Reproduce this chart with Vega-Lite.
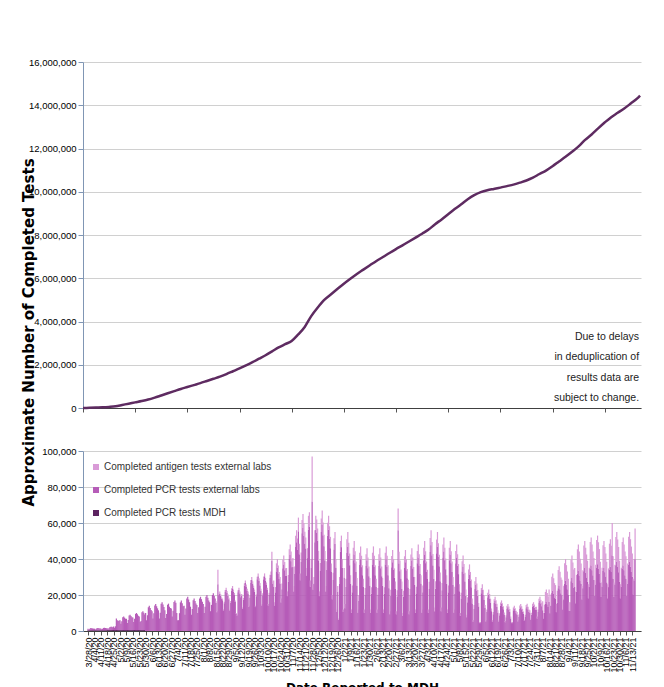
{
"$schema":"https://vega.github.io/schema/vega-lite/v6.json",
"background":"white",
"padding":{"left":21,"top":57,"right":20,"bottom":0},
"spacing":43,
"bounds":"flush",
"resolve":{"legend":{"color":"independent"}},
"config":{"view":{"stroke":null},"axis":{"labelFont":"Liberation Sans","labelColor":"#000000","labelFontSize":9.5,"domainWidth":1}},
"datasets":{
"cum":[
{"d":"2020-03-28","v":0},{"d":"2020-04-04","v":10000},{"d":"2020-04-11","v":20000},{"d":"2020-04-18","v":30000},{"d":"2020-04-25","v":50000},{"d":"2020-05-02","v":80000},{"d":"2020-05-09","v":140000},{"d":"2020-05-16","v":200000},{"d":"2020-05-23","v":260000},{"d":"2020-05-30","v":320000},{"d":"2020-06-06","v":390000},{"d":"2020-06-13","v":480000},{"d":"2020-06-20","v":580000},{"d":"2020-06-27","v":680000},{"d":"2020-07-04","v":780000},{"d":"2020-07-11","v":880000},{"d":"2020-07-18","v":970000},{"d":"2020-07-25","v":1060000},{"d":"2020-08-01","v":1150000},{"d":"2020-08-08","v":1250000},{"d":"2020-08-15","v":1350000},{"d":"2020-08-22","v":1450000},{"d":"2020-08-29","v":1570000},{"d":"2020-09-05","v":1700000},{"d":"2020-09-12","v":1830000},{"d":"2020-09-19","v":1970000},{"d":"2020-09-26","v":2120000},{"d":"2020-10-03","v":2280000},{"d":"2020-10-10","v":2440000},{"d":"2020-10-17","v":2620000},{"d":"2020-10-24","v":2800000},{"d":"2020-10-31","v":2950000},{"d":"2020-11-07","v":3100000},{"d":"2020-11-14","v":3400000},{"d":"2020-11-21","v":3750000},{"d":"2020-11-28","v":4250000},{"d":"2020-12-05","v":4650000},{"d":"2020-12-12","v":5000000},{"d":"2020-12-19","v":5250000},{"d":"2020-12-26","v":5500000},{"d":"2021-01-02","v":5750000},{"d":"2021-01-09","v":5980000},{"d":"2021-01-16","v":6200000},{"d":"2021-01-23","v":6400000},{"d":"2021-01-30","v":6600000},{"d":"2021-02-06","v":6800000},{"d":"2021-02-13","v":6980000},{"d":"2021-02-20","v":7170000},{"d":"2021-02-27","v":7350000},{"d":"2021-03-06","v":7520000},{"d":"2021-03-13","v":7700000},{"d":"2021-03-20","v":7880000},{"d":"2021-03-27","v":8060000},{"d":"2021-04-03","v":8250000},{"d":"2021-04-10","v":8500000},{"d":"2021-04-17","v":8720000},{"d":"2021-04-24","v":8960000},{"d":"2021-05-01","v":9200000},{"d":"2021-05-08","v":9420000},{"d":"2021-05-15","v":9650000},{"d":"2021-05-22","v":9840000},{"d":"2021-05-29","v":9980000},{"d":"2021-06-05","v":10070000},{"d":"2021-06-12","v":10130000},{"d":"2021-06-19","v":10190000},{"d":"2021-06-26","v":10260000},{"d":"2021-07-03","v":10330000},{"d":"2021-07-10","v":10420000},{"d":"2021-07-17","v":10520000},{"d":"2021-07-24","v":10650000},{"d":"2021-07-31","v":10820000},{"d":"2021-08-07","v":10980000},{"d":"2021-08-14","v":11180000},{"d":"2021-08-21","v":11400000},{"d":"2021-08-28","v":11620000},{"d":"2021-09-04","v":11850000},{"d":"2021-09-11","v":12100000},{"d":"2021-09-18","v":12400000},{"d":"2021-09-25","v":12650000},{"d":"2021-10-02","v":12930000},{"d":"2021-10-09","v":13200000},{"d":"2021-10-16","v":13450000},{"d":"2021-10-23","v":13650000},{"d":"2021-10-30","v":13850000},{"d":"2021-11-06","v":14080000},{"d":"2021-11-13","v":14320000},{"d":"2021-11-16","v":14450000}
],
"daily":[
{"d":"2020-03-28","m":400,"p":800},{"d":"2020-03-29","m":400,"p":500},{"d":"2020-03-30","m":400,"p":900},{"d":"2020-03-31","m":400,"p":1200},{"d":"2020-04-01","m":400,"p":1100},{"d":"2020-04-02","m":400,"p":1000},{"d":"2020-04-03","m":400,"p":900},
{"d":"2020-04-04","m":400,"p":900},{"d":"2020-04-05","m":400,"p":500},{"d":"2020-04-06","m":400,"p":800},{"d":"2020-04-07","m":400,"p":1200},{"d":"2020-04-08","m":400,"p":1300},{"d":"2020-04-09","m":400,"p":1100},{"d":"2020-04-10","m":400,"p":1000},
{"d":"2020-04-11","m":400,"p":1000},{"d":"2020-04-12","m":400,"p":600},{"d":"2020-04-13","m":400,"p":900},{"d":"2020-04-14","m":400,"p":1300},{"d":"2020-04-15","m":400,"p":1400},{"d":"2020-04-16","m":400,"p":1200},{"d":"2020-04-17","m":400,"p":1100},
{"d":"2020-04-18","m":500,"p":1000},{"d":"2020-04-19","m":500,"p":500},{"d":"2020-04-20","m":500,"p":1100},{"d":"2020-04-21","m":500,"p":1700},{"d":"2020-04-22","m":500,"p":1900},{"d":"2020-04-23","m":500,"p":1800},{"d":"2020-04-24","m":500,"p":1600},
{"d":"2020-04-25","m":500,"p":2000},{"d":"2020-04-26","m":500,"p":1300},{"d":"2020-04-27","m":500,"p":2100},{"d":"2020-04-28","m":500,"p":6500},{"d":"2020-04-29","m":500,"p":5500},{"d":"2020-04-30","m":500,"p":5000},{"d":"2020-05-01","m":500,"p":5300},
{"d":"2020-05-02","m":500,"p":5500},{"d":"2020-05-03","m":500,"p":3500},{"d":"2020-05-04","m":500,"p":4900},{"d":"2020-05-05","m":500,"p":7100},{"d":"2020-05-06","m":500,"p":7500},{"d":"2020-05-07","m":500,"p":6900},{"d":"2020-05-08","m":500,"p":6300},
{"d":"2020-05-09","m":500,"p":6300},{"d":"2020-05-10","m":500,"p":4000},{"d":"2020-05-11","m":500,"p":5600},{"d":"2020-05-12","m":500,"p":8100},{"d":"2020-05-13","m":500,"p":8500},{"d":"2020-05-14","m":500,"p":7800},{"d":"2020-05-15","m":500,"p":7200},
{"d":"2020-05-16","m":500,"p":7000},{"d":"2020-05-17","m":500,"p":4500},{"d":"2020-05-18","m":500,"p":6300},{"d":"2020-05-19","m":500,"p":9000},{"d":"2020-05-20","m":500,"p":9500},{"d":"2020-05-21","m":500,"p":8800},{"d":"2020-05-22","m":500,"p":8000},
{"d":"2020-05-23","m":500,"p":7500},{"d":"2020-05-24","m":500,"p":4500},{"d":"2020-05-25","m":500,"p":5000},{"d":"2020-05-26","m":500,"p":9900},{"d":"2020-05-27","m":500,"p":10500},{"d":"2020-05-28","m":500,"p":9600},{"d":"2020-05-29","m":500,"p":8700},
{"d":"2020-05-30","p":10000},{"d":"2020-05-31","p":6000},{"d":"2020-06-01","p":8800},{"d":"2020-06-02","p":13200},{"d":"2020-06-03","p":14000},{"d":"2020-06-04","p":12800},{"d":"2020-06-05","p":11600},
{"d":"2020-06-06","p":11000},{"d":"2020-06-07","p":7000},{"d":"2020-06-08","p":9800},{"d":"2020-06-09","p":14200},{"d":"2020-06-10","p":15000},{"d":"2020-06-11","p":13800},{"d":"2020-06-12","p":12600},
{"d":"2020-06-13","p":11500},{"d":"2020-06-14","p":7000},{"d":"2020-06-15","p":10200},{"d":"2020-06-16","p":15100},{"d":"2020-06-17","p":16000},{"d":"2020-06-18","p":14700},{"d":"2020-06-19","p":13300},
{"d":"2020-06-20","p":11500},{"d":"2020-06-21","p":7200},{"d":"2020-06-22","p":9500},{"d":"2020-06-23","p":14600},{"d":"2020-06-24","p":15200},{"d":"2020-06-25","p":13500},{"d":"2020-06-26","p":12800},
{"d":"2020-06-27","p":12500},{"d":"2020-06-28","p":8000},{"d":"2020-06-29","p":11200},{"d":"2020-06-30","p":16100},{"d":"2020-07-01","p":17000},{"d":"2020-07-02","p":15700},{"d":"2020-07-03","p":10000},
{"d":"2020-07-04","p":6000},{"d":"2020-07-05","p":6000},{"d":"2020-07-06","p":9900},{"d":"2020-07-07","p":15900},{"d":"2020-07-08","p":17000},{"d":"2020-07-09","p":15400},{"d":"2020-07-10","p":13700},
{"d":"2020-07-11","p":14000},{"d":"2020-07-12","p":9000},{"d":"2020-07-13","p":12500},{"d":"2020-07-14","p":18000},{"d":"2020-07-15","p":19000},{"d":"2020-07-16","p":17500},{"d":"2020-07-17","p":16000},
{"d":"2020-07-18","p":13500},{"d":"2020-07-19","p":9000},{"d":"2020-07-20","p":12200},{"d":"2020-07-21","p":17100},{"d":"2020-07-22","p":18000},{"d":"2020-07-23","p":16700},{"d":"2020-07-24","p":15300},
{"d":"2020-07-25","p":14500},{"d":"2020-07-26","p":10000},{"d":"2020-07-27","p":13200},{"d":"2020-07-28","p":18100},{"d":"2020-07-29","p":19000},{"d":"2020-07-30","p":17700},{"d":"2020-07-31","p":16300},
{"d":"2020-08-01","p":15000},{"d":"2020-08-02","p":10000},{"d":"2020-08-03","p":13500},{"d":"2020-08-04","p":19000},{"d":"2020-08-05","p":20000},{"d":"2020-08-06","p":18500},{"d":"2020-08-07","p":17000},
{"d":"2020-08-08","p":16000},{"d":"2020-08-09","p":11000},{"d":"2020-08-10","p":14500},{"d":"2020-08-11","p":20000},{"d":"2020-08-12","p":21000},{"d":"2020-08-13","p":19500},{"d":"2020-08-14","p":18000},
{"d":"2020-08-15","p":15700,"r":800},{"d":"2020-08-16","p":10400,"r":600},{"d":"2020-08-17","p":26000,"r":8000},{"d":"2020-08-18","p":19900,"r":1000},{"d":"2020-08-19","p":20900,"r":1100},{"d":"2020-08-20","p":19400,"r":1000},{"d":"2020-08-21","p":17800,"r":900},
{"d":"2020-08-22","p":17100,"r":900},{"d":"2020-08-23","p":11400,"r":600},{"d":"2020-08-24","p":15400,"r":800},{"d":"2020-08-25","p":21700,"r":1100},{"d":"2020-08-26","p":22800,"r":1200},{"d":"2020-08-27","p":21100,"r":1100},{"d":"2020-08-28","p":19400,"r":1000},
{"d":"2020-08-29","p":17600,"r":900},{"d":"2020-08-30","p":11400,"r":600},{"d":"2020-08-31","p":15800,"r":800},{"d":"2020-09-01","p":22500,"r":1200},{"d":"2020-09-02","p":23700,"r":1300},{"d":"2020-09-03","p":21800,"r":1200},{"d":"2020-09-04","p":20000,"r":1100},
{"d":"2020-09-05","p":16100,"r":900},{"d":"2020-09-06","p":9500,"r":500},{"d":"2020-09-07","p":8500,"r":500},{"d":"2020-09-08","p":21500,"r":1100},{"d":"2020-09-09","p":22800,"r":1200},{"d":"2020-09-10","p":20800,"r":1100},{"d":"2020-09-11","p":18800,"r":1000},
{"d":"2020-09-12","p":19500,"r":1000},{"d":"2020-09-13","p":12300,"r":700},{"d":"2020-09-14","p":17400,"r":900},{"d":"2020-09-15","p":25200,"r":1300},{"d":"2020-09-16","p":26600,"r":1400},{"d":"2020-09-17","p":24500,"r":1300},{"d":"2020-09-18","p":22300,"r":1200},
{"d":"2020-09-19","p":20900,"r":1100},{"d":"2020-09-20","p":13300,"r":700},{"d":"2020-09-21","p":18600,"r":1000},{"d":"2020-09-22","p":27000,"r":1400},{"d":"2020-09-23","p":28500,"r":1500},{"d":"2020-09-24","p":26200,"r":1400},{"d":"2020-09-25","p":23900,"r":1300},
{"d":"2020-09-26","p":21800,"r":1200},{"d":"2020-09-27","p":13300,"r":700},{"d":"2020-09-28","p":19300,"r":1000},{"d":"2020-09-29","p":28700,"r":1500},{"d":"2020-09-30","p":30400,"r":1600},{"d":"2020-10-01","p":27800,"r":1500},{"d":"2020-10-02","p":25300,"r":1300},
{"d":"2020-10-03","p":22300,"r":1200},{"d":"2020-10-04","p":14200,"r":800},{"d":"2020-10-05","p":19900,"r":1100},{"d":"2020-10-06","p":28800,"r":1500},{"d":"2020-10-07","p":30400,"r":1600},{"d":"2020-10-08","p":28000,"r":1500},{"d":"2020-10-09","p":25600,"r":1300},
{"d":"2020-10-10","p":22800,"r":1200},{"d":"2020-10-11","p":14200,"r":800},{"d":"2020-10-12","p":20200,"r":1100},{"d":"2020-10-13","p":29600,"r":1600},{"d":"2020-10-14","p":31300,"r":1700},{"d":"2020-10-15","p":39000,"r":5000},{"d":"2020-10-16","p":26200,"r":1400},
{"d":"2020-10-17","p":24600,"r":3400},{"d":"2020-10-18","p":14100,"r":1900},{"d":"2020-10-19","p":21500,"r":2900},{"d":"2020-10-20","p":33100,"r":4500},{"d":"2020-10-21","p":35200,"r":4800},{"d":"2020-10-22","p":32000,"r":4400},{"d":"2020-10-23","p":28900,"r":3900},
{"d":"2020-10-24","p":26400,"r":3600},{"d":"2020-10-25","p":15800,"r":2200},{"d":"2020-10-26","p":23200,"r":3200},{"d":"2020-10-27","p":34800,"r":4800},{"d":"2020-10-28","p":37000,"r":5000},{"d":"2020-10-29","p":33800,"r":4600},{"d":"2020-10-30","p":30600,"r":4200},
{"d":"2020-10-31","p":30800,"r":4200},{"d":"2020-11-01","p":19400,"r":2600},{"d":"2020-11-02","p":27400,"r":3700},{"d":"2020-11-03","p":40000,"r":5400},{"d":"2020-11-04","p":42200,"r":5800},{"d":"2020-11-05","p":38800,"r":5300},{"d":"2020-11-06","p":35400,"r":4800},
{"d":"2020-11-07","p":35600,"r":4900},{"d":"2020-11-08","p":22000,"r":3000},{"d":"2020-11-09","p":31600,"r":4300},{"d":"2020-11-10","p":46600,"r":6300},{"d":"2020-11-11","p":49300,"r":6700},{"d":"2020-11-12","p":45200,"r":6200},{"d":"2020-11-13","p":55400,"r":7600},
{"d":"2020-11-14","p":42700,"r":5800},{"d":"2020-11-15","p":28200,"r":3800},{"d":"2020-11-16","p":38400,"r":5200},{"d":"2020-11-17","p":54300,"r":7400},{"d":"2020-11-18","p":57200,"r":7800},{"d":"2020-11-19","p":52800,"r":7200},{"d":"2020-11-20","p":48500,"r":6600},
{"d":"2020-11-21","p":45800,"r":6200},{"d":"2020-11-22","p":30800,"r":4200},{"d":"2020-11-23","p":40500,"r":5500},{"d":"2020-11-24","p":56300,"r":7700},{"d":"2020-11-25","p":58100,"r":7900},{"d":"2020-11-26","p":24600,"r":3400},{"d":"2020-11-27","p":35200,"r":4800},
{"d":"2020-11-28","p":72000,"r":25000},{"d":"2020-11-29","p":22900,"r":3100},{"d":"2020-11-30","p":26400,"r":3600},{"d":"2020-12-01","p":49300,"r":6700},{"d":"2020-12-02","p":56300,"r":7700},{"d":"2020-12-03","p":54600,"r":7400},{"d":"2020-12-04","p":50200,"r":6800},
{"d":"2020-12-05","p":39200,"r":5300},{"d":"2020-12-06","p":19400,"r":2600},{"d":"2020-12-07","p":33300,"r":4500},{"d":"2020-12-08","p":55000,"r":7500},{"d":"2020-12-09","p":59000,"r":8000},{"d":"2020-12-10","p":53100,"r":7200},{"d":"2020-12-11","p":47100,"r":6400},
{"d":"2020-12-12","p":39200,"r":5300},{"d":"2020-12-13","p":22000,"r":3000},{"d":"2020-12-14","p":34100,"r":4600},{"d":"2020-12-15","p":52900,"r":7200},{"d":"2020-12-16","p":56300,"r":7700},{"d":"2020-12-17","p":51200,"r":7000},{"d":"2020-12-18","p":46000,"r":6300},
{"d":"2020-12-19","p":33000,"r":4500},{"d":"2020-12-20","p":17600,"r":2400},{"d":"2020-12-21","p":28400,"r":3900},{"d":"2020-12-22","p":45300,"r":6200},{"d":"2020-12-23","p":48400,"r":6600},{"d":"2020-12-24","p":35200,"r":4800},{"d":"2020-12-25","p":10600,"r":1400},
{"d":"2020-12-26","p":22000,"r":3000},{"d":"2020-12-27","p":6200,"r":800},{"d":"2020-12-28","p":26400,"r":3600},{"d":"2020-12-29","p":44000,"r":6000},{"d":"2020-12-30","p":46600,"r":6400},{"d":"2020-12-31","p":35200,"r":4800},{"d":"2021-01-01","p":10600,"r":1400},
{"d":"2021-01-02","p":29700,"r":5300},{"d":"2021-01-03","p":12700,"r":2300},{"d":"2021-01-04","p":24600,"r":4400},{"d":"2021-01-05","p":43300,"r":7700},{"d":"2021-01-06","p":46700,"r":8300},{"d":"2021-01-07","p":41600,"r":7400},{"d":"2021-01-08","p":36500,"r":6500},
{"d":"2021-01-09","p":26300,"r":4700},{"d":"2021-01-10","p":10200,"r":1800},{"d":"2021-01-11","p":21500,"r":3800},{"d":"2021-01-12","p":39300,"r":6900},{"d":"2021-01-13","p":42500,"r":7500},{"d":"2021-01-14","p":37700,"r":6600},{"d":"2021-01-15","p":32800,"r":5800},
{"d":"2021-01-16","p":25100,"r":4400},{"d":"2021-01-17","p":10200,"r":1800},{"d":"2021-01-18","p":17000,"r":3000},{"d":"2021-01-19","p":37000,"r":6500},{"d":"2021-01-20","p":39900,"r":7100},{"d":"2021-01-21","p":35500,"r":6300},{"d":"2021-01-22","p":31000,"r":5500},
{"d":"2021-01-23","p":24600,"r":4400},{"d":"2021-01-24","p":10200,"r":1800},{"d":"2021-01-25","p":20300,"r":3600},{"d":"2021-01-26","p":36200,"r":6400},{"d":"2021-01-27","p":39100,"r":6900},{"d":"2021-01-28","p":34800,"r":6100},{"d":"2021-01-29","p":30400,"r":5400},
{"d":"2021-01-30","p":25100,"r":4400},{"d":"2021-01-31","p":10200,"r":1800},{"d":"2021-02-01","p":20700,"r":3600},{"d":"2021-02-02","p":37000,"r":6500},{"d":"2021-02-03","p":39900,"r":7100},{"d":"2021-02-04","p":35500,"r":6300},{"d":"2021-02-05","p":31000,"r":5500},
{"d":"2021-02-06","p":24600,"r":4400},{"d":"2021-02-07","p":10200,"r":1800},{"d":"2021-02-08","p":20300,"r":3600},{"d":"2021-02-09","p":36200,"r":6400},{"d":"2021-02-10","p":39100,"r":6900},{"d":"2021-02-11","p":34800,"r":6100},{"d":"2021-02-12","p":30400,"r":5400},
{"d":"2021-02-13","p":25100,"r":4400},{"d":"2021-02-14","p":10200,"r":1800},{"d":"2021-02-15","p":20700,"r":3600},{"d":"2021-02-16","p":37000,"r":6500},{"d":"2021-02-17","p":39900,"r":7100},{"d":"2021-02-18","p":35500,"r":6300},{"d":"2021-02-19","p":31000,"r":5500},
{"d":"2021-02-20","p":23800,"r":4200},{"d":"2021-02-21","p":9300,"r":1700},{"d":"2021-02-22","p":19500,"r":3400},{"d":"2021-02-23","p":35400,"r":6200},{"d":"2021-02-24","p":38200,"r":6800},{"d":"2021-02-25","p":33900,"r":6000},{"d":"2021-02-26","p":29600,"r":5200},
{"d":"2021-02-27","p":23400,"r":4100},{"d":"2021-02-28","p":9300,"r":1700},{"d":"2021-03-01","p":19200,"r":3400},{"d":"2021-03-02","p":56000,"r":12000},{"d":"2021-03-03","p":37400,"r":6600},{"d":"2021-03-04","p":33200,"r":5900},{"d":"2021-03-05","p":29000,"r":5100},
{"d":"2021-03-06","p":23400,"r":4100},{"d":"2021-03-07","p":8500,"r":1500},{"d":"2021-03-08","p":19000,"r":3300},{"d":"2021-03-09","p":35300,"r":6200},{"d":"2021-03-10","p":38200,"r":6800},{"d":"2021-03-11","p":33800,"r":6000},{"d":"2021-03-12","p":29300,"r":5200},
{"d":"2021-03-13","p":24200,"r":4300},{"d":"2021-03-14","p":9300,"r":1700},{"d":"2021-03-15","p":19800,"r":3500},{"d":"2021-03-16","p":36100,"r":6400},{"d":"2021-03-17","p":39100,"r":6900},{"d":"2021-03-18","p":34700,"r":6100},{"d":"2021-03-19","p":30200,"r":5300},
{"d":"2021-03-20","p":25500,"r":4500},{"d":"2021-03-21","p":10200,"r":1800},{"d":"2021-03-22","p":20900,"r":3700},{"d":"2021-03-23","p":37700,"r":6700},{"d":"2021-03-24","p":40800,"r":7200},{"d":"2021-03-25","p":36200,"r":6400},{"d":"2021-03-26","p":31600,"r":5600},
{"d":"2021-03-27","p":26300,"r":4700},{"d":"2021-03-28","p":10200,"r":1800},{"d":"2021-03-29","p":21500,"r":3800},{"d":"2021-03-30","p":39300,"r":6900},{"d":"2021-03-31","p":42500,"r":7500},{"d":"2021-04-01","p":37700,"r":6600},{"d":"2021-04-02","p":32800,"r":5800},
{"d":"2021-04-03","p":28900,"r":5100},{"d":"2021-04-04","p":10200,"r":1800},{"d":"2021-04-05","p":23300,"r":4100},{"d":"2021-04-06","p":43900,"r":7700},{"d":"2021-04-07","p":47600,"r":8400},{"d":"2021-04-08","p":42000,"r":7400},{"d":"2021-04-09","p":36400,"r":6400},
{"d":"2021-04-10","p":28900,"r":5100},{"d":"2021-04-11","p":11000,"r":2000},{"d":"2021-04-12","p":23500,"r":4200},{"d":"2021-04-13","p":43200,"r":7600},{"d":"2021-04-14","p":46700,"r":8300},{"d":"2021-04-15","p":41400,"r":7300},{"d":"2021-04-16","p":36000,"r":6400},
{"d":"2021-04-17","p":27600,"r":4900},{"d":"2021-04-18","p":11000,"r":2000},{"d":"2021-04-19","p":22700,"r":4000},{"d":"2021-04-20","p":40900,"r":7200},{"d":"2021-04-21","p":44200,"r":7800},{"d":"2021-04-22","p":39300,"r":6900},{"d":"2021-04-23","p":34300,"r":6000},
{"d":"2021-04-24","p":26300,"r":4700},{"d":"2021-04-25","p":10200,"r":1800},{"d":"2021-04-26","p":21500,"r":3800},{"d":"2021-04-27","p":39300,"r":6900},{"d":"2021-04-28","p":42500,"r":7500},{"d":"2021-04-29","p":37700,"r":6600},{"d":"2021-04-30","p":32800,"r":5800},
{"d":"2021-05-01","p":25500,"r":4500},{"d":"2021-05-02","p":10200,"r":1800},{"d":"2021-05-03","p":20900,"r":3700},{"d":"2021-05-04","p":37700,"r":6700},{"d":"2021-05-05","p":40800,"r":7200},{"d":"2021-05-06","p":36200,"r":6400},{"d":"2021-05-07","p":31600,"r":5600},
{"d":"2021-05-08","p":22100,"r":3900},{"d":"2021-05-09","p":8500,"r":1500},{"d":"2021-05-10","p":18000,"r":3200},{"d":"2021-05-11","p":33000,"r":5800},{"d":"2021-05-12","p":35700,"r":6300},{"d":"2021-05-13","p":31600,"r":5600},{"d":"2021-05-14","p":27500,"r":4900},
{"d":"2021-05-15","p":19500,"r":3500},{"d":"2021-05-16","p":7600,"r":1400},{"d":"2021-05-17","p":16000,"r":2800},{"d":"2021-05-18","p":29100,"r":5100},{"d":"2021-05-19","p":31400,"r":5600},{"d":"2021-05-20","p":27900,"r":4900},{"d":"2021-05-21","p":24300,"r":4300},
{"d":"2021-05-22","p":15300,"r":2700},{"d":"2021-05-23","p":5100,"r":900},{"d":"2021-05-24","p":12200,"r":2200},{"d":"2021-05-25","p":23500,"r":4100},{"d":"2021-05-26","p":25500,"r":4500},{"d":"2021-05-27","p":22400,"r":4000},{"d":"2021-05-28","p":19400,"r":3400},
{"d":"2021-05-29","p":13600,"r":1900},{"d":"2021-05-30","p":4400,"r":600},{"d":"2021-05-31","p":4400,"r":600},{"d":"2021-06-01","p":21000,"r":2900},{"d":"2021-06-02","p":22900,"r":3100},{"d":"2021-06-03","p":20200,"r":2700},{"d":"2021-06-04","p":17300,"r":2400},
{"d":"2021-06-05","p":12800,"r":1700},{"d":"2021-06-06","p":5300,"r":700},{"d":"2021-06-07","p":10600,"r":1400},{"d":"2021-06-08","p":18700,"r":2600},{"d":"2021-06-09","p":20200,"r":2800},{"d":"2021-06-10","p":18000,"r":2500},{"d":"2021-06-11","p":15800,"r":2100},
{"d":"2021-06-12","p":11000,"r":1500},{"d":"2021-06-13","p":5300,"r":700},{"d":"2021-06-14","p":9300,"r":1300},{"d":"2021-06-15","p":15600,"r":2100},{"d":"2021-06-16","p":16700,"r":2300},{"d":"2021-06-17","p":15000,"r":2100},{"d":"2021-06-18","p":13300,"r":1800},
{"d":"2021-06-19","p":10100,"r":1400},{"d":"2021-06-20","p":5300,"r":700},{"d":"2021-06-21","p":8700,"r":1200},{"d":"2021-06-22","p":14000,"r":1900},{"d":"2021-06-23","p":15000,"r":2000},{"d":"2021-06-24","p":13600,"r":1800},{"d":"2021-06-25","p":12100,"r":1600},
{"d":"2021-06-26","p":9100,"r":1200},{"d":"2021-06-27","p":4800,"r":700},{"d":"2021-06-28","p":7700,"r":1100},{"d":"2021-06-29","p":12300,"r":1700},{"d":"2021-06-30","p":13200,"r":1800},{"d":"2021-07-01","p":12000,"r":1600},{"d":"2021-07-02","p":10700,"r":1500},
{"d":"2021-07-03","p":7000,"r":1000},{"d":"2021-07-04","p":4400,"r":600},{"d":"2021-07-05","p":4400,"r":600},{"d":"2021-07-06","p":11500,"r":1600},{"d":"2021-07-07","p":12300,"r":1700},{"d":"2021-07-08","p":11200,"r":1500},{"d":"2021-07-09","p":9900,"r":1400},
{"d":"2021-07-10","p":9200,"r":1300},{"d":"2021-07-11","p":5300,"r":700},{"d":"2021-07-12","p":8100,"r":1100},{"d":"2021-07-13","p":12400,"r":1700},{"d":"2021-07-14","p":13200,"r":1800},{"d":"2021-07-15","p":12100,"r":1600},{"d":"2021-07-16","p":10800,"r":1500},
{"d":"2021-07-17","p":9500,"r":1300},{"d":"2021-07-18","p":5500,"r":700},{"d":"2021-07-19","p":7900,"r":1100},{"d":"2021-07-20","p":12700,"r":1700},{"d":"2021-07-21","p":13400,"r":1800},{"d":"2021-07-22","p":11900,"r":1600},{"d":"2021-07-23","p":10600,"r":1400},
{"d":"2021-07-24","p":10100,"r":1400},{"d":"2021-07-25","p":6200,"r":800},{"d":"2021-07-26","p":9000,"r":1200},{"d":"2021-07-27","p":13300,"r":1800},{"d":"2021-07-28","p":14100,"r":1900},{"d":"2021-07-29","p":12900,"r":1800},{"d":"2021-07-30","p":11700,"r":1600},
{"d":"2021-07-31","p":11900,"r":1600},{"d":"2021-08-01","p":7000,"r":1000},{"d":"2021-08-02","p":10500,"r":1400},{"d":"2021-08-03","p":15800,"r":2100},{"d":"2021-08-04","p":16700,"r":2300},{"d":"2021-08-05","p":15300,"r":2100},{"d":"2021-08-06","p":13800,"r":1900},
{"d":"2021-08-07","p":11500,"r":5000},{"d":"2021-08-08","p":7000,"r":3000},{"d":"2021-08-09","p":10200,"r":4400},{"d":"2021-08-10","p":15200,"r":6500},{"d":"2021-08-11","p":16100,"r":6900},{"d":"2021-08-12","p":14800,"r":6300},{"d":"2021-08-13","p":13400,"r":5700},
{"d":"2021-08-14","p":16100,"r":6900},{"d":"2021-08-15","p":9800,"r":4200},{"d":"2021-08-16","p":14200,"r":6100},{"d":"2021-08-17","p":21100,"r":9100},{"d":"2021-08-18","p":22400,"r":9600},{"d":"2021-08-19","p":20500,"r":8800},{"d":"2021-08-20","p":18600,"r":8000},
{"d":"2021-08-21","p":17800,"r":7700},{"d":"2021-08-22","p":10500,"r":4500},{"d":"2021-08-23","p":15700,"r":6700},{"d":"2021-08-24","p":23700,"r":10200},{"d":"2021-08-25","p":25200,"r":10800},{"d":"2021-08-26","p":23000,"r":9900},{"d":"2021-08-27","p":20800,"r":8900},
{"d":"2021-08-28","p":19900,"r":8600},{"d":"2021-08-29","p":11900,"r":5100},{"d":"2021-08-30","p":17600,"r":7500},{"d":"2021-08-31","p":26400,"r":11300},{"d":"2021-09-01","p":28000,"r":12000},{"d":"2021-09-02","p":25600,"r":11000},{"d":"2021-09-03","p":23200,"r":9900},
{"d":"2021-09-04","p":20300,"r":8700},{"d":"2021-09-05","p":11200,"r":4800},{"d":"2021-09-06","p":11200,"r":4800},{"d":"2021-09-07","p":27600,"r":11800},{"d":"2021-09-08","p":29400,"r":12600},{"d":"2021-09-09","p":26700,"r":11400},{"d":"2021-09-10","p":23900,"r":10300},
{"d":"2021-09-11","p":24500,"r":10500},{"d":"2021-09-12","p":15400,"r":6600},{"d":"2021-09-13","p":21800,"r":9300},{"d":"2021-09-14","p":31800,"r":13600},{"d":"2021-09-15","p":33600,"r":14400},{"d":"2021-09-16","p":30900,"r":13200},{"d":"2021-09-17","p":28100,"r":12100},
{"d":"2021-09-18","p":26200,"r":11300},{"d":"2021-09-19","p":17500,"r":7500},{"d":"2021-09-20","p":23700,"r":10100},{"d":"2021-09-21","p":33200,"r":14300},{"d":"2021-09-22","p":35000,"r":15000},{"d":"2021-09-23","p":32400,"r":13900},{"d":"2021-09-24","p":29700,"r":12800},
{"d":"2021-09-25","p":27300,"r":11700},{"d":"2021-09-26","p":18200,"r":7800},{"d":"2021-09-27","p":24600,"r":10500},{"d":"2021-09-28","p":34600,"r":14800},{"d":"2021-09-29","p":36400,"r":15600},{"d":"2021-09-30","p":33700,"r":14400},{"d":"2021-10-01","p":30900,"r":13300},
{"d":"2021-10-02","p":28300,"r":12200},{"d":"2021-10-03","p":19600,"r":8400},{"d":"2021-10-04","p":25800,"r":11000},{"d":"2021-10-05","p":35300,"r":15200},{"d":"2021-10-06","p":37100,"r":15900},{"d":"2021-10-07","p":34500,"r":14800},{"d":"2021-10-08","p":31800,"r":13700},
{"d":"2021-10-09","p":26900,"r":11600},{"d":"2021-10-10","p":18900,"r":8100},{"d":"2021-10-11","p":24600,"r":10500},{"d":"2021-10-12","p":33400,"r":14300},{"d":"2021-10-13","p":35000,"r":15000},{"d":"2021-10-14","p":32600,"r":14000},{"d":"2021-10-15","p":30200,"r":12900},
{"d":"2021-10-16","p":26900,"r":11600},{"d":"2021-10-17","p":18200,"r":7800},{"d":"2021-10-18","p":24400,"r":10400},{"d":"2021-10-19","p":33900,"r":14600},{"d":"2021-10-20","p":35700,"r":15300},{"d":"2021-10-21","p":33100,"r":14200},{"d":"2021-10-22","p":42000,"r":18000},
{"d":"2021-10-23","p":29000,"r":12500},{"d":"2021-10-24","p":18900,"r":8100},{"d":"2021-10-25","p":25800,"r":11000},{"d":"2021-10-26","p":36500,"r":15700},{"d":"2021-10-27","p":38500,"r":16500},{"d":"2021-10-28","p":35600,"r":15200},{"d":"2021-10-29","p":32600,"r":14000},
{"d":"2021-10-30","p":27300,"r":11700},{"d":"2021-10-31","p":18200,"r":7800},{"d":"2021-11-01","p":24600,"r":10500},{"d":"2021-11-02","p":34600,"r":14800},{"d":"2021-11-03","p":36400,"r":15600},{"d":"2021-11-04","p":33700,"r":14400},{"d":"2021-11-05","p":30900,"r":13300},
{"d":"2021-11-06","p":29000,"r":12500},{"d":"2021-11-07","p":19600,"r":8400},{"d":"2021-11-08","p":26200,"r":11300},{"d":"2021-11-09","p":36600,"r":15700},{"d":"2021-11-10","p":38500,"r":16500},{"d":"2021-11-11","p":35700,"r":15300},{"d":"2021-11-12","p":32800,"r":14100},
{"d":"2021-11-13","p":30100,"r":12900},{"d":"2021-11-14","p":20300,"r":8700},{"d":"2021-11-15","p":28000,"r":12000},{"d":"2021-11-16","p":39900,"r":17100}
]
},
"vconcat":[
{
"width":558,"height":346,
"layer":[
{"data":{"name":"cum"},
"mark":{"type":"line","color":"#5e2b61","strokeWidth":2.5,"interpolate":"monotone"},
"encoding":{
"x":{"field":"d","type":"temporal","scale":{"type":"utc","domain":[{"year":2020,"month":3,"date":28,"utc":true},{"year":2021,"month":11,"date":17,"utc":true}]},
"axis":{"title":null,"labels":false,"grid":false,"values":[1585353600000,1585958400000,1586563200000,1587168000000,1587772800000,1588377600000,1588982400000,1589587200000,1590192000000,1590796800000,1591401600000,1592006400000,1592611200000,1593216000000,1593820800000,1594425600000,1595030400000,1595635200000,1596240000000,1596844800000,1597449600000,1598054400000,1598659200000,1599264000000,1599868800000,1600473600000,1601078400000,1601683200000,1602288000000,1602892800000,1603497600000,1604102400000,1604707200000,1605312000000,1605916800000,1606521600000,1607126400000,1607731200000,1608336000000,1608940800000,1609545600000,1610150400000,1610755200000,1611360000000,1611964800000,1612569600000,1613174400000,1613779200000,1614384000000,1614988800000,1615593600000,1616198400000,1616803200000,1617408000000,1618012800000,1618617600000,1619222400000,1619827200000,1620432000000,1621036800000,1621641600000,1622246400000,1622851200000,1623456000000,1624060800000,1624665600000,1625270400000,1625875200000,1626480000000,1627084800000,1627689600000,1628294400000,1628899200000,1629504000000,1630108800000,1630713600000,1631318400000,1631923200000,1632528000000,1633132800000,1633737600000,1634342400000,1634947200000,1635552000000,1636156800000,1636761600000],"tickSize":4,"tickColor":"#555555","domainColor":"#404040"}},
"y":{"field":"v","type":"quantitative","scale":{"domain":[0,16000000]},
"axis":{"title":"Approximate Number of Completed Tests","values":[0,2000000,4000000,6000000,8000000,10000000,12000000,14000000,16000000],"format":",d","tickSize":5,"domainColor":"#8096b4","tickColor":"#8096b4","gridColor":"#d0d0d0","labelPadding":2,
"titleFont":"DejaVu Sans","titleFontWeight":"bold","titleFontSize":15,"titleColor":"#000000","titleX":-55,"titleY":270,"titleAngle":270,"titleAlign":"center","titleBaseline":"middle"}}
}},
{"data":{"values":[{}]},
"mark":{"type":"text","text":["Due to delays","in deduplication of","results data are","subject to change."],"align":"right","baseline":"middle","lineHeight":20.5,"fontSize":10.5,"font":"Liberation Sans","color":"#222222"},
"encoding":{"x":{"datum":{"year":2021,"month":11,"date":15,"utc":true},"type":"temporal"},"y":{"datum":3300000,"type":"quantitative"}}}
]
},
{
"width":558,"height":180,
"data":{"name":"daily"},
"transform":[{"fold":["m","p","r"],"as":["k","v"]},{"filter":"isValid(datum.v)"}],
"mark":{"type":"bar","width":1.2},
"encoding":{
"x":{"field":"d","type":"temporal","scale":{"type":"utc","domain":[{"year":2020,"month":3,"date":28,"utc":true},{"year":2021,"month":11,"date":17,"utc":true}]},
"axis":{"title":"Date Reported to MDH","values":[1585353600000,1585958400000,1586563200000,1587168000000,1587772800000,1588377600000,1588982400000,1589587200000,1590192000000,1590796800000,1591401600000,1592006400000,1592611200000,1593216000000,1593820800000,1594425600000,1595030400000,1595635200000,1596240000000,1596844800000,1597449600000,1598054400000,1598659200000,1599264000000,1599868800000,1600473600000,1601078400000,1601683200000,1602288000000,1602892800000,1603497600000,1604102400000,1604707200000,1605312000000,1605916800000,1606521600000,1607126400000,1607731200000,1608336000000,1608940800000,1609545600000,1610150400000,1610755200000,1611360000000,1611964800000,1612569600000,1613174400000,1613779200000,1614384000000,1614988800000,1615593600000,1616198400000,1616803200000,1617408000000,1618012800000,1618617600000,1619222400000,1619827200000,1620432000000,1621036800000,1621641600000,1622246400000,1622851200000,1623456000000,1624060800000,1624665600000,1625270400000,1625875200000,1626480000000,1627084800000,1627689600000,1628294400000,1628899200000,1629504000000,1630108800000,1630713600000,1631318400000,1631923200000,1632528000000,1633132800000,1633737600000,1634342400000,1634947200000,1635552000000,1636156800000,1636761600000],
"labelExpr":"utcFormat(datum.value, '%-m/%-d/%y')","labelAngle":-90,"labelOverlap":false,"labelFontSize":9,"labelPadding":2,"tickSize":4,"tickColor":"#555555","domainColor":"#404040","grid":false,
"titleFont":"DejaVu Sans","titleFontWeight":"bold","titleFontSize":12,"titleColor":"#000000","titlePadding":10}},
"y":{"field":"v","type":"quantitative","stack":"zero","scale":{"domain":[0,100000]},
"axis":{"title":null,"values":[0,20000,40000,60000,80000,100000],"format":",d","tickSize":5,"domainColor":"#8096b4","tickColor":"#8096b4","gridColor":"#d0d0d0","labelPadding":2}},
"color":{"field":"k","type":"nominal","scale":{"domain":["r","p","m"],"range":["#d99bd7","#b65cb8","#5c2360"]},
"legend":{"title":null,"orient":"none","legendX":8,"legendY":11,"padding":0,"symbolType":"square","symbolSize":36,"symbolStrokeWidth":0,"labelFont":"Liberation Sans","labelFontSize":10,"labelColor":"#333333","rowPadding":13,"labelOffset":3,"labelLimit":400,
"labelExpr":"datum.label == 'r' ? 'Completed antigen tests external labs' : datum.label == 'p' ? 'Completed PCR tests external labs' : 'Completed PCR tests MDH'"}},
"order":{"field":"k","sort":"ascending"}
}
}
]
}
